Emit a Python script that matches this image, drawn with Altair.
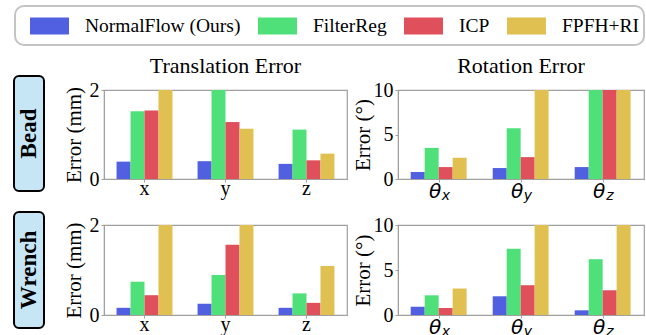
import altair as alt
import pandas as pd

# ---------------- data ----------------
methods = ["NormalFlow (Ours)", "FilterReg", "ICP", "FPFH+RI"]
colors = ["#5060E0", "#50E07A", "#E0505C", "#E0C050"]

trans_cats = ["x", "y", "z"]
rot_cats = ["θx", "θy", "θz"]
rot_subs = ["x", "y", "z"]

# Bead - translation error (mm)
bead_trans_normalflow = [0.39, 0.40, 0.34]
bead_trans_filterreg = [1.52, 2.00, 1.11]
bead_trans_icp = [1.54, 1.28, 0.42]
bead_trans_fpfh = [2.00, 1.13, 0.57]

# Bead - rotation error (deg)
bead_rot_normalflow = [0.78, 1.23, 1.34]
bead_rot_filterreg = [3.50, 5.70, 10.0]
bead_rot_icp = [1.34, 2.46, 10.0]
bead_rot_fpfh = [2.39, 10.0, 10.0]

# Wrench - translation error (mm)
wrench_trans_normalflow = [0.16, 0.25, 0.16]
wrench_trans_filterreg = [0.74, 0.89, 0.48]
wrench_trans_icp = [0.44, 1.56, 0.27]
wrench_trans_fpfh = [2.00, 2.00, 1.09]

# Wrench - rotation error (deg)
wrench_rot_normalflow = [0.93, 2.08, 0.52]
wrench_rot_filterreg = [2.19, 7.36, 6.20]
wrench_rot_icp = [0.78, 3.31, 2.75]
wrench_rot_fpfh = [2.94, 10.0, 10.0]

row_labels = ["Bead", "Wrench"]
col_titles = ["Translation Error", "Rotation Error"]
trans_ticks = [0, 1, 2]
rot_ticks = [0, 5, 10]

SERIF = "Liberation Serif, Times New Roman, DejaVu Serif, serif"
GRAY = "#a0a0a0"

legend_path = "M-1,-0.436L1,-0.436L1,0.436L-1,0.436Z"


def make_df(cats, series):
    rows = []
    for m, vals in zip(methods, series):
        for c, v in zip(cats, vals):
            rows.append({"cat": c, "method": m, "value": v})
    return pd.DataFrame(rows)


def make_panel(cats, series, ymax, yticks, ytitle, title_text, w, h,
               rot=False, row_label=None, row_box=None, legend_box=False,
               title_pad=6):
    df = make_df(cats, series)
    xenc = alt.X(
        "cat:N", sort=cats, title=None,
        scale=alt.Scale(paddingInner=0.31, paddingOuter=0.155),
        axis=alt.Axis(labels=not rot, labelAngle=0, labelBaseline="alphabetic",
                      labelPadding=12, tickSize=3, labelFontSize=20),
    )
    bars = alt.Chart(df).mark_bar().encode(
        x=xenc,
        xOffset=alt.XOffset("method:N", sort=methods,
                            scale=alt.Scale(paddingInner=0, paddingOuter=0)),
        y=alt.Y("value:Q", scale=alt.Scale(domain=[0, ymax], nice=False, zero=True),
                axis=alt.Axis(values=yticks, format="d", title=ytitle,
                              titlePadding=title_pad, labelPadding=2, tickSize=3)),
        color=alt.Color(
            "method:N", sort=methods,
            scale=alt.Scale(domain=methods, range=colors),
            legend=alt.Legend(
                orient="none", legendX=-74, legendY=-83.5, direction="horizontal",
                columns=4, title=None, symbolType=legend_path, symbolSize=1521,
                symbolStrokeWidth=0, symbolOpacity=1, labelFont=SERIF,
                labelFontSize=19.5, labelColor="black", labelOffset=16,
                columnPadding=17, padding=0, labelLimit=400,
            ),
        ),
    )
    layers = []
    if legend_box:
        lb = alt.Chart(pd.DataFrame({"k": [0]})).mark_rect(
            cornerRadius=9, fill="white", stroke="#c4c4c4", strokeWidth=2
        ).encode(x=alt.value(-89), x2=alt.value(540), y=alt.value(-84), y2=alt.value(-45))
        layers.append(lb)
    layers.append(bars)
    if rot:
        tdf = pd.DataFrame({"cat": cats, "sub": rot_subs, "main": ["θ"] * len(cats)})
        th = alt.Chart(tdf).mark_text(
            font="DejaVu Sans", fontStyle="italic", fontSize=20,
            baseline="alphabetic", align="center", dx=-4, color="black"
        ).encode(x=xenc, y=alt.value(h + 19), text="main:N")
        sb = alt.Chart(tdf).mark_text(
            font="DejaVu Sans", fontStyle="italic", fontSize=14,
            baseline="alphabetic", align="center", dx=7, color="black"
        ).encode(x=xenc, y=alt.value(h + 21), text="sub:N")
        layers += [th, sb]
    if title_text:
        tt = alt.Chart(pd.DataFrame({"t": [title_text]})).mark_text(
            font=SERIF, fontSize=22, baseline="alphabetic", align="center", color="black"
        ).encode(x=alt.value(w / 2), y=alt.value(-17), text="t:N")
        layers.append(tt)
    if row_label is not None:
        y0, y1 = row_box
        rb = alt.Chart(pd.DataFrame({"label": [row_label]})).mark_rect(
            cornerRadius=5, fill="#c6e6f5", stroke="black", strokeWidth=2
        ).encode(x=alt.value(-90), x2=alt.value(-60), y=alt.value(y0), y2=alt.value(y1))
        rt = alt.Chart(pd.DataFrame({"label": [row_label]})).mark_text(
            angle=270, font=SERIF, fontWeight="bold", fontSize=23,
            baseline="middle", align="center", color="black"
        ).encode(x=alt.value(-75), y=alt.value((y0 + y1) / 2), text="label:N")
        layers += [rb, rt]
    return alt.layer(*layers).properties(width=w, height=h)


p_bt = make_panel(trans_cats,
                  [bead_trans_normalflow, bead_trans_filterreg, bead_trans_icp, bead_trans_fpfh],
                  2, trans_ticks, "Error (mm)", col_titles[0], 243, 89,
                  row_label=row_labels[0], row_box=(-14, 101), legend_box=True, title_pad=5)
p_br = make_panel(rot_cats,
                  [bead_rot_normalflow, bead_rot_filterreg, bead_rot_icp, bead_rot_fpfh],
                  10, rot_ticks, "Error (°)", col_titles[1], 246, 89, rot=True, title_pad=0)
p_wt = make_panel(trans_cats,
                  [wrench_trans_normalflow, wrench_trans_filterreg, wrench_trans_icp, wrench_trans_fpfh],
                  2, trans_ticks, "Error (mm)", None, 243, 90,
                  row_label=row_labels[1], row_box=(-13, 103), title_pad=5)
p_wr = make_panel(rot_cats,
                  [wrench_rot_normalflow, wrench_rot_filterreg, wrench_rot_icp, wrench_rot_fpfh],
                  10, rot_ticks, "Error (°)", None, 246, 90, rot=True, title_pad=0)

chart = alt.concat(p_bt, p_br, p_wt, p_wr, columns=2, spacing={"row": 46, "column": 51},
                   bounds="flush").properties(
    padding={"left": 12, "top": 4, "right": 0, "bottom": 0},
    background="white",
).configure_view(
    stroke=GRAY, strokeWidth=1.2
).configure_axis(
    labelFont=SERIF, labelFontSize=20, labelColor="black",
    titleFont=SERIF, titleFontSize=21, titleFontWeight="normal", titleColor="black",
    domainColor=GRAY, tickColor=GRAY, grid=False,
)

chart.save("out.html", embed_options={"renderer": "svg", "actions": False})
